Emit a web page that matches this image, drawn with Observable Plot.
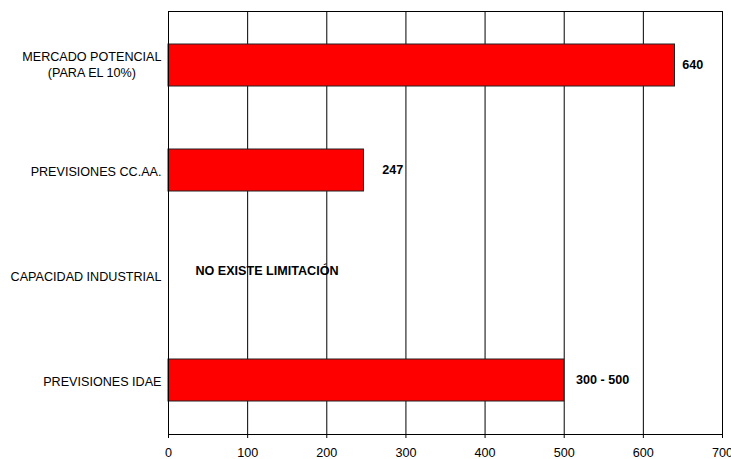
<!DOCTYPE html>
<html>
<head>
<meta charset="utf-8">
<script src="https://cdn.jsdelivr.net/npm/d3@7"></script>
<script src="https://cdn.jsdelivr.net/npm/@observablehq/plot@0.6"></script>
<style>
  html, body { margin: 0; padding: 0; background: #fff; }
  #chart svg { display: block; font-family: Arial, "Liberation Sans", sans-serif; }
</style>
</head>
<body>
<div id="chart"></div>
<script>
const categories = ["MERCADO POTENCIAL\n(PARA EL 10%)", "PREVISIONES CC.AA.", "CAPACIDAD INDUSTRIAL", "PREVISIONES IDAE"];
const values = [640, 247, null, 500];
const valueLabels = ["640", "247", "", "300 - 500"];
const labelAt = [649, 270, null, 515];
const noteText = "NO EXISTE LIMITACIÓN";
const noteCategory = "CAPACIDAD INDUSTRIAL";
const noteAt = 34;
const xTicks = [0, 100, 200, 300, 400, 500, 600, 700];

const bars = categories.map((c, i) => ({cat: c, value: values[i]})).filter(d => d.value != null);
const labels = categories.map((c, i) => ({cat: c, x: labelAt[i], text: valueLabels[i]})).filter(d => d.x != null);

const FS = 12.6;

const chart = Plot.plot({
  width: 731,
  height: 459,
  marginLeft: 168,
  marginRight: 9,
  marginTop: 11,
  marginBottom: 25,
  style: {fontFamily: "Arial, 'Liberation Sans', sans-serif", fontSize: FS + "px", color: "#000", background: "#fff"},
  x: {domain: [0, 700], ticks: xTicks, tickSize: 4, tickPadding: 10, label: null},
  y: {domain: categories, paddingInner: 0.6, paddingOuter: 0.3, label: null},
  marks: [
    Plot.ruleX(xTicks, {stroke: "#000", strokeWidth: 1}),
    Plot.barX(bars, {x: "value", y: "cat", fill: "#ff0000", stroke: "#222", strokeWidth: 1}),
    Plot.frame({stroke: "#000", strokeWidth: 1}),
    Plot.text(labels, {x: "x", y: "cat", text: "text", textAnchor: "start", fontWeight: "bold", fontSize: FS, dy: -1, fill: "#000"}),
    Plot.text([noteText], {x: () => noteAt, y: () => noteCategory, text: d => d, textAnchor: "start", fontWeight: "bold", fontSize: FS, dy: -5, fill: "#000"}),
    Plot.axisX({ticks: xTicks, tickSize: 4, tickPadding: 10, fontSize: FS}),
    Plot.axisY({tickSize: 0, tickPadding: 7, fontSize: FS, lineHeight: 1.24})
  ]
});
document.getElementById("chart").appendChild(chart);

// Center the lines of the multi-line category label as a block, keeping its right edge.
chart.querySelectorAll("text").forEach(t => {
  if (t.querySelectorAll("tspan").length > 1) {
    const w = t.getBBox().width;
    t.setAttribute("text-anchor", "middle");
    const tr = t.getAttribute("transform") || "";
    t.setAttribute("transform", tr + ` translate(${-w / 2},-1.5)`);
  }
});
</script>
</body>
</html>
